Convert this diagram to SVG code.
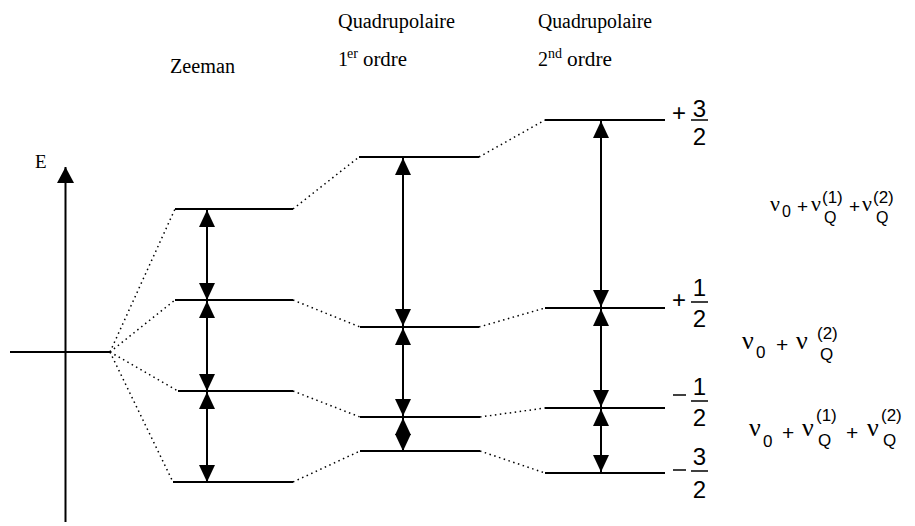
<svg xmlns="http://www.w3.org/2000/svg" width="915" height="526" viewBox="0 0 915 526">
<style>
.lvl{stroke:#000;stroke-width:2;fill:none}
.dot{stroke:#000;stroke-width:1.5;stroke-dasharray:1.5 3.5;fill:none}
.arr{stroke:#000;stroke-width:2;fill:none;marker-start:url(#ah);marker-end:url(#ah)}
.bar{stroke:#000;stroke-width:1.5}
</style>
<defs>
<marker id="ah" viewBox="0 0 17 16" refX="17" refY="8" markerWidth="17" markerHeight="16" markerUnits="userSpaceOnUse" orient="auto-start-reverse">
<path d="M0,0 L17,8 L0,16 Z" fill="#000"/>
</marker>
<marker id="ax" viewBox="0 0 16 17" refX="16" refY="8.5" markerWidth="16" markerHeight="17" markerUnits="userSpaceOnUse" orient="auto">
<path d="M0,0 L16,8.5 L0,17 Z" fill="#000"/>
</marker>
</defs>

<g id="axis">
<path d="M65.5,522 L65.5,167" stroke="#000" stroke-width="2" marker-end="url(#ax)"/>
<text x="35" y="168" font-family="Liberation Serif, Times New Roman, serif" font-size="19" fill="#000">E</text>
<line x1="10" y1="352" x2="110" y2="352" class="lvl"/>
</g>

<g id="connectors">
<path class="dot" d="M110,352 L175,209"/>
<path class="dot" d="M110,352 L175,300"/>
<path class="dot" d="M110,352 L178,391"/>
<path class="dot" d="M110,352 L173,482"/>
<path class="dot" d="M293,209 L359,157"/>
<path class="dot" d="M293,300 L360,327"/>
<path class="dot" d="M293,391 L360,417"/>
<path class="dot" d="M293,482 L360,451"/>
<path class="dot" d="M479,157 L545,120"/>
<path class="dot" d="M479,327 L545,308"/>
<path class="dot" d="M480,417 L545,408"/>
<path class="dot" d="M480,451 L545,473"/>
</g>

<g id="zeeman" font-family="Liberation Serif, Times New Roman, serif" fill="#000">
<text x="170" y="73" font-size="20" textLength="65" lengthAdjust="spacingAndGlyphs">Zeeman</text>
<line class="lvl" x1="175" y1="209" x2="293" y2="209"/>
<line class="lvl" x1="175" y1="300" x2="293" y2="300"/>
<line class="lvl" x1="178" y1="391" x2="293" y2="391"/>
<line class="lvl" x1="173" y1="482" x2="293" y2="482"/>
<path class="arr" d="M207,210 L207,300"/>
<path class="arr" d="M207,301 L207,391"/>
<path class="arr" d="M207,392 L207,482"/>
</g>

<g id="quad1" font-family="Liberation Serif, Times New Roman, serif" fill="#000">
<text x="338" y="28" font-size="20" textLength="117" lengthAdjust="spacingAndGlyphs">Quadrupolaire</text>
<text x="338" y="66" font-size="20">1</text>
<text x="347" y="58" font-size="14">er</text>
<text x="363" y="66" font-size="20" textLength="44" lengthAdjust="spacingAndGlyphs">ordre</text>
<line class="lvl" x1="359" y1="157" x2="479" y2="157"/>
<line class="lvl" x1="360" y1="327" x2="479" y2="327"/>
<line class="lvl" x1="360" y1="417" x2="480" y2="417"/>
<line class="lvl" x1="360" y1="451" x2="480" y2="451"/>
<path class="arr" d="M403,158 L403,326"/>
<path class="arr" d="M403,328 L403,416"/>
<path class="arr" d="M403,418 L403,451"/>
</g>

<g id="quad2" font-family="Liberation Serif, Times New Roman, serif" fill="#000">
<text x="538" y="28" font-size="20" textLength="114" lengthAdjust="spacingAndGlyphs">Quadrupolaire</text>
<text x="538" y="66" font-size="20">2</text>
<text x="548" y="58" font-size="14">nd</text>
<text x="567" y="66" font-size="20" textLength="45" lengthAdjust="spacingAndGlyphs">ordre</text>
<line class="lvl" x1="545" y1="120" x2="665" y2="120"/>
<line class="lvl" x1="545" y1="308" x2="665" y2="308"/>
<line class="lvl" x1="545" y1="408" x2="665" y2="408"/>
<line class="lvl" x1="545" y1="473" x2="665" y2="473"/>
<path class="arr" d="M601,121 L601,307"/>
<path class="arr" d="M601,309 L601,407"/>
<path class="arr" d="M601,409 L601,472"/>
</g>

<g id="spin-labels" font-family="Liberation Sans, Arial, sans-serif" font-size="24" fill="#000" text-anchor="middle">
<text x="679" y="121">+</text>
<text x="699.5" y="117">3</text>
<line class="bar" x1="691" y1="120" x2="708" y2="120"/>
<text x="699.5" y="145">2</text>

<text x="679" y="308">+</text>
<text x="699.5" y="296">1</text>
<line class="bar" x1="691" y1="302" x2="708" y2="302"/>
<text x="699.5" y="327">2</text>

<line class="bar" x1="673" y1="395" x2="686" y2="395"/>
<text x="699.5" y="395">1</text>
<line class="bar" x1="691" y1="401" x2="708" y2="401"/>
<text x="699.5" y="426">2</text>

<line class="bar" x1="673" y1="470" x2="686" y2="470"/>
<text x="699.5" y="465">3</text>
<line class="bar" x1="691" y1="471" x2="708" y2="471"/>
<text x="699.5" y="498">2</text>
</g>

<g id="freq-labels" fill="#000" font-family="Liberation Sans, Arial, sans-serif">
<text x="770" y="211" font-size="22" font-family="Liberation Serif, serif">ν</text>
<text x="782" y="217" font-size="16">0</text>
<text x="797" y="213" font-size="19">+</text>
<text x="811" y="211" font-size="22" font-family="Liberation Serif, serif">ν</text>
<text x="822" y="203" font-size="17">(1)</text>
<text x="824" y="223" font-size="16">Q</text>
<text x="849" y="213" font-size="19">+</text>
<text x="862" y="211" font-size="22" font-family="Liberation Serif, serif">ν</text>
<text x="873" y="203" font-size="17">(2)</text>
<text x="876" y="223" font-size="16">Q</text>

<text x="742" y="349" font-size="26" font-family="Liberation Serif, serif">ν</text>
<text x="756" y="358" font-size="17">0</text>
<text x="776" y="352" font-size="21">+</text>
<text x="796" y="349" font-size="26" font-family="Liberation Serif, serif">ν</text>
<text x="817" y="339" font-size="17">(2)</text>
<text x="820" y="360" font-size="17">Q</text>

<text x="749" y="436" font-size="26" font-family="Liberation Serif, serif">ν</text>
<text x="763" y="447" font-size="17">0</text>
<text x="782" y="440" font-size="21">+</text>
<text x="802" y="436" font-size="26" font-family="Liberation Serif, serif">ν</text>
<text x="816" y="421" font-size="17">(1)</text>
<text x="818" y="446" font-size="17">Q</text>
<text x="846" y="440" font-size="21">+</text>
<text x="867" y="436" font-size="26" font-family="Liberation Serif, serif">ν</text>
<text x="881" y="421" font-size="17">(2)</text>
<text x="883" y="446" font-size="17">Q</text>
</g>
</svg>
